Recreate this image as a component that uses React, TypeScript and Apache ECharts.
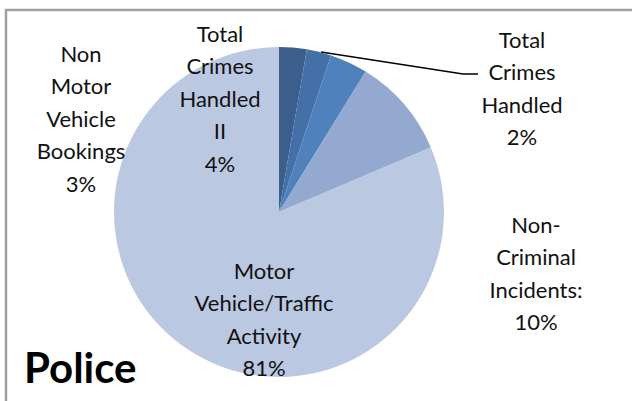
import React, { useEffect, useRef } from "react";
import * as echarts from "echarts";

const categories = [
  "Non\nMotor\nVehicle\nBookings",
  "Total\nCrimes\nHandled",
  "Total\nCrimes\nHandled\nII",
  "Non-\nCriminal\nIncidents:",
  "Motor\nVehicle/Traffic\nActivity",
];
const values = [2.7, 2.4, 3.7, 9.8, 81.4];
const colors = ["#3b5e8c", "#4371a7", "#4f81bd", "#93a9cf", "#bbc8e1"];
const chartTitle = "Police";

// label block centres (x, y) in px
const labelPos: [number, number][] = [
  [81, 118],
  [522, 88],
  [220, 98],
  [536, 273],
  [264, 319],
];

export default function App() {
  const ref = useRef<HTMLDivElement>(null);
  useEffect(() => {
    if (!ref.current) return;
    const chart = echarts.init(ref.current, null, { renderer: "svg" });
    chart.setOption({
      animation: false,
      backgroundColor: "#ffffff",
      title: {
        text: chartTitle,
        left: 19,
        top: 341,
        textStyle: {
          fontFamily: "Lato",
          fontWeight: "bold",
          fontSize: 42,
          color: "#000",
        },
      },
      graphic: [
        {
          type: "rect",
          shape: { x: 6, y: 10, width: 700, height: 500 },
          style: { fill: "none", stroke: "#a0a0a0", lineWidth: 2.5 },
          silent: true,
        },
      ],
      series: [
        {
          type: "pie",
          center: [279, 212],
          radius: [0, 165],
          startAngle: 90,
          clockwise: true,
          avoidLabelOverlap: false,
          itemStyle: { borderWidth: 0 },
          label: {
            show: true,
            position: "outside",
            fontFamily: "Lato",
            fontSize: 22,
            lineHeight: 32.5,
            color: "#111",
            align: "center",
            formatter: (p: any) => `${p.name}\n${Math.round(p.percent)}%`,
          },
          labelLine: { show: false },
          labelLayout: (params: any) => {
            const i = params.dataIndex;
            const [x, y] = labelPos[i];
            const out: any = { x, y, align: "center", verticalAlign: "middle" };
            if (i === 1) {
              out.labelLinePoints = [
                [321, 52],
                [463, 74],
                [478, 74],
              ];
            }
            return out;
          },
          data: values.map((v, i) => ({
            name: categories[i],
            value: v,
            itemStyle: { color: colors[i] },
            labelLine:
              i === 1
                ? { show: true, lineStyle: { color: "#000", width: 1.5 } }
                : { show: false },
          })),
        },
      ],
    });
    return () => chart.dispose();
  }, []);
  return (
    <div
      ref={ref}
      style={{ position: "fixed", left: 0, top: 0, width: 632, height: 401 }}
    />
  );
}
